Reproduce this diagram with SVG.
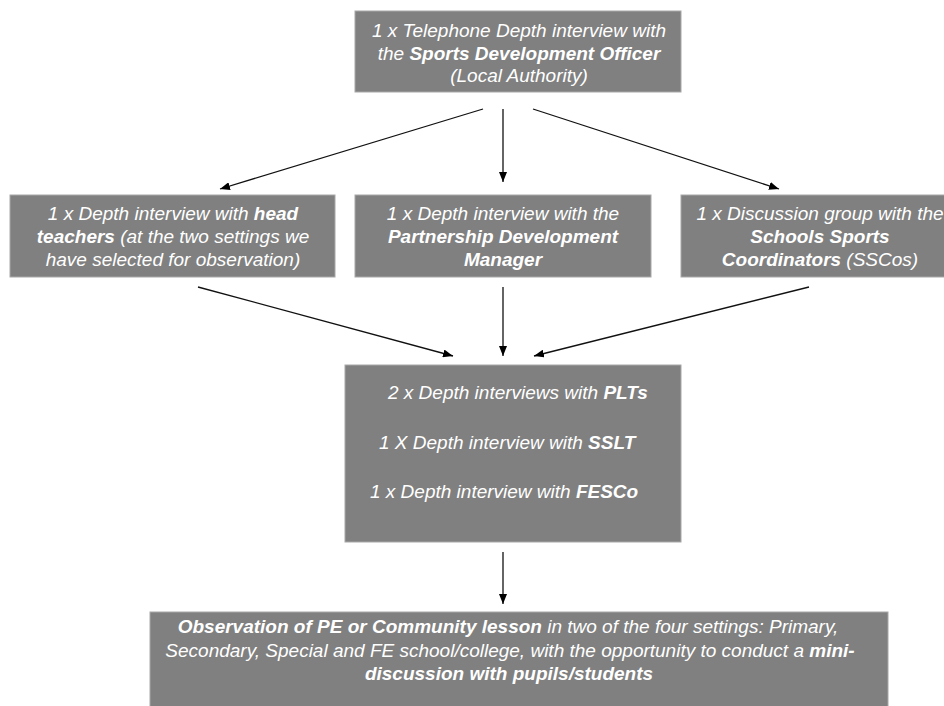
<svg xmlns="http://www.w3.org/2000/svg" width="944" height="706" viewBox="0 0 944 706">
<style>
.box{fill:#808080;stroke:#a8a8a8;stroke-width:1}
.t{font-family:"Liberation Sans",Arial,sans-serif;font-size:19px;font-style:italic;fill:#ffffff}
.c{text-anchor:middle}
.b{font-weight:bold}
.ln{stroke:#111;stroke-width:1.3;fill:none;marker-end:url(#ah)}
</style>
<defs>
<marker id="ah" viewBox="0 0 10 8" refX="10" refY="4" markerWidth="10" markerHeight="8" markerUnits="userSpaceOnUse" orient="auto">
<path d="M0,0 L10,4 L0,8 Z" fill="#000"/>
</marker>
</defs>
<rect width="944" height="706" fill="#ffffff"/>
<g id="connectors">
<line class="ln" x1="483" y1="109" x2="220" y2="189"/>
<line class="ln" x1="503" y1="109" x2="503" y2="182"/>
<line class="ln" x1="533" y1="109" x2="779" y2="189"/>
<line class="ln" x1="198" y1="287" x2="453" y2="356"/>
<line class="ln" x1="503" y1="287" x2="503" y2="356"/>
<line class="ln" x1="809" y1="287" x2="534" y2="356"/>
<line class="ln" x1="503" y1="552" x2="503" y2="604"/>
</g>
<g id="top">
<rect class="box" x="355" y="11" width="326" height="81"/>
<text class="t c" x="519" y="37">1 x Telephone Depth interview with</text>
<text class="t c" x="519" y="59.5">the <tspan class="b">Sports Development Officer</tspan></text>
<text class="t c" x="519" y="82">(Local Authority)</text>
</g>
<g id="head-teachers">
<rect class="box" x="10" y="195" width="325" height="82"/>
<text class="t c" x="173" y="219.5">1 x Depth interview with <tspan class="b">head</tspan></text>
<text class="t c" x="173" y="243"><tspan class="b">teachers</tspan> (at the two settings we</text>
<text class="t c" x="173" y="266">have selected for observation)</text>
</g>
<g id="pdm">
<rect class="box" x="355" y="195" width="296" height="82"/>
<text class="t c" x="503" y="219.5">1 x Depth interview with the</text>
<text class="t c b" x="503" y="243">Partnership Development</text>
<text class="t c b" x="503" y="266">Manager</text>
</g>
<g id="ssco">
<rect class="box" x="681" y="195" width="280" height="82"/>
<text class="t c" x="820" y="219.5">1 x Discussion group with the</text>
<text class="t c b" x="820" y="243">Schools Sports</text>
<text class="t c" x="820" y="266"><tspan class="b">Coordinators</tspan> (SSCos)</text>
</g>
<g id="middle">
<rect class="box" x="345" y="365" width="336" height="177"/>
<text class="t" x="388" y="399">2 x Depth interviews with <tspan class="b">PLTs</tspan></text>
<text class="t" x="379" y="449">1 X Depth interview with <tspan class="b">SSLT</tspan></text>
<text class="t" x="370" y="498">1 x Depth interview with <tspan class="b">FESCo</tspan></text>
</g>
<g id="observation">
<rect class="box" x="150" y="612" width="738" height="104"/>
<text class="t c" x="508" y="633"><tspan class="b">Observation of PE or Community lesson</tspan> in two of the four settings: Primary,</text>
<text class="t c" x="510" y="656.5">Secondary, Special and FE school/college, with the opportunity to conduct a <tspan class="b">mini-</tspan></text>
<text class="t c b" x="509" y="680">discussion with pupils/students</text>
</g>
</svg>
